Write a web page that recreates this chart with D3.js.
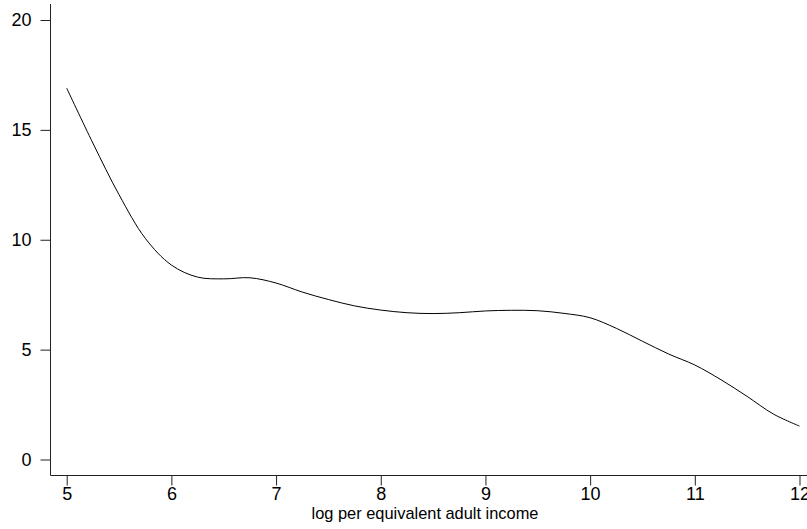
<!DOCTYPE html>
<html><head><meta charset="utf-8">
<script src="https://cdn.jsdelivr.net/npm/d3@7"></script>
<style>body{margin:0;background:#fff}svg{display:block}text{font-family:"Liberation Sans",Arial,sans-serif}</style>
</head><body>
<svg id="c" width="807" height="529"></svg>
<script>
const xValues = [5.0,5.25,5.5,5.75,6.0,6.25,6.5,6.75,7.0,7.25,7.5,7.75,8.0,8.25,8.5,8.75,9.0,9.25,9.5,9.75,10.0,10.25,10.5,10.75,11.0,11.25,11.5,11.75,12.0];
const yValues = [16.9,14.4,12.05,10.07,8.85,8.3,8.22,8.27,8.03,7.62,7.28,6.99,6.8,6.68,6.64,6.68,6.76,6.79,6.77,6.65,6.45,5.97,5.38,4.8,4.3,3.63,2.87,2.07,1.52];
const xTicks = [5,6,7,8,9,10,11,12];
const yTicks = [0,5,10,15,20];
const xTitle = "log per equivalent adult income";

const svg = d3.select("#c");
const x = d3.scaleLinear().domain([5,12]).range([66.7,799.5]);
const y = d3.scaleLinear().domain([0,20]).range([459.5,20]);

const xa = svg.append("g").attr("transform","translate(0,475.5)")
  .call(d3.axisBottom(x).tickValues(xTicks).tickSize(10).tickPadding(2).tickFormat(d3.format("d")));
xa.select(".domain").attr("d","M50.5,0H807");
const ya = svg.append("g").attr("transform","translate(50.5,0)")
  .call(d3.axisLeft(y).tickValues(yTicks).tickSize(10).tickPadding(9).tickFormat(d3.format("d")));
ya.select(".domain").attr("d","M0,4V475.5");
svg.selectAll(".tick text").attr("font-size",18).attr("fill","#000").attr("font-family","Liberation Sans, Arial, sans-serif");
svg.selectAll(".domain, .tick line").attr("stroke","#222");

const data = xValues.map((v,i)=>[v,yValues[i]]);
svg.append("path").datum(data)
  .attr("fill","none").attr("stroke","#000").attr("stroke-width",1)
  .attr("d", d3.line().x(d=>x(d[0])).y(d=>y(d[1])).curve(d3.curveCatmullRom.alpha(0.5)));

svg.append("text").attr("x",425).attr("y",519).attr("text-anchor","middle")
  .attr("font-size",16.4).attr("fill","#000").text(xTitle);
</script>
</body></html>
